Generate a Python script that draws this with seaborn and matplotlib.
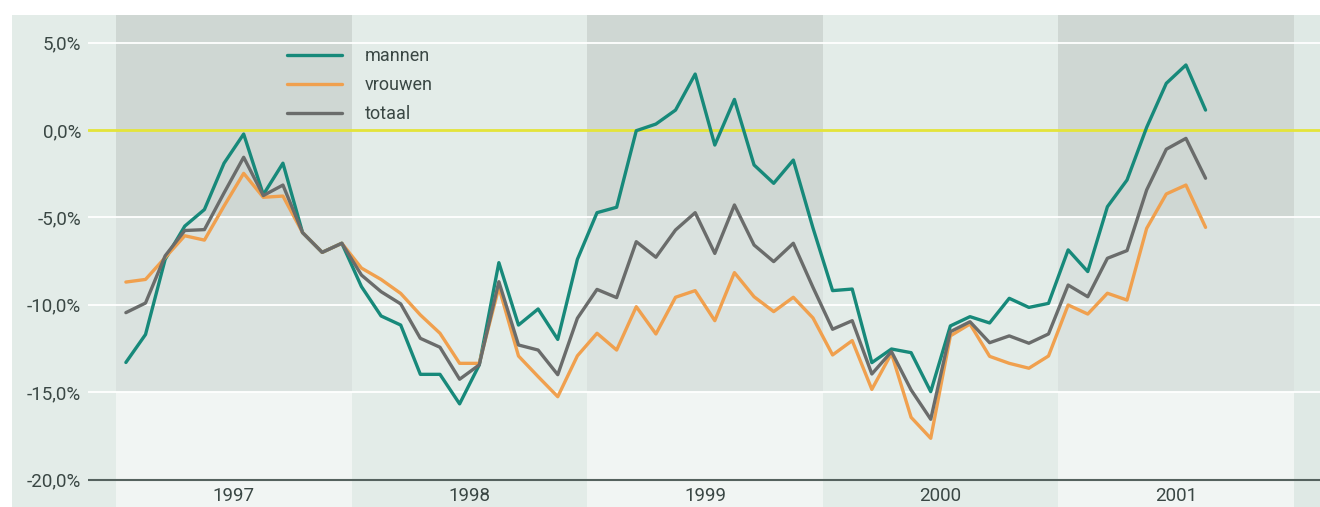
import numpy as np
import pandas as pd
import matplotlib
matplotlib.use("Agg")
import matplotlib.pyplot as plt
from matplotlib.patches import Rectangle
import seaborn as sns

# ---- data (monthly, Jan 1997 - Aug 2001), % change ----
series_names = ["mannen", "vrouwen", "totaal"]
years = ["1997", "1998", "1999", "2000", "2001"]
mannen = [-13.3, -11.7, -7.4, -5.5, -4.55, -1.9, -0.23, -3.7, -1.9, -5.87, -7.0, -6.48,
          -8.96, -10.64, -11.16, -13.98, -13.98, -15.67, -13.44, -7.59, -11.16, -10.24, -11.98, -7.4,
          -4.73, -4.42, -0.04, 0.34, 1.14, 3.2, -0.86, 1.75, -2.0, -3.05, -1.72, -5.6,
          -9.19, -9.1, -13.31, -12.53, -12.74, -14.97, -11.21, -10.68, -11.04, -9.63, -10.15, -9.92,
          -6.86, -8.1, -4.39, -2.86, 0.15, 2.67, 3.72, 1.14]
vrouwen = [-8.7, -8.55, -7.3, -6.05, -6.3, -4.35, -2.48, -3.85, -3.78, -5.87, -7.0, -6.48,
           -7.9, -8.55, -9.35, -10.58, -11.63, -13.35, -13.35, -9.0, -12.93, -14.11, -15.26, -12.92,
           -11.63, -12.59, -10.11, -11.67, -9.57, -9.19, -10.91, -8.16, -9.54, -10.39, -9.57, -10.75,
           -12.87, -12.05, -14.84, -12.78, -16.44, -17.64, -11.78, -11.1, -12.95, -13.35, -13.63, -12.93,
           -10.01, -10.53, -9.34, -9.73, -5.63, -3.66, -3.15, -5.57]
totaal = [-10.45, -9.9, -7.2, -5.75, -5.7, -3.6, -1.56, -3.75, -3.15, -5.87, -7.0, -6.48,
          -8.3, -9.25, -9.95, -11.92, -12.43, -14.26, -13.44, -8.68, -12.3, -12.59, -14.0, -10.77,
          -9.12, -9.59, -6.39, -7.28, -5.72, -4.73, -7.06, -4.29, -6.58, -7.53, -6.48, -9.0,
          -11.4, -10.91, -13.96, -12.68, -14.87, -16.55, -11.54, -10.97, -12.17, -11.78, -12.2, -11.67,
          -8.87, -9.54, -7.34, -6.9, -3.43, -1.1, -0.48, -2.76]
ytick_vals = [5, 0, -5, -10, -15, -20]
ytick_labels = ["5,0%", "0,0%", "-5,0%", "-10,0%", "-15,0%", "-20,0%"]

n = len(mannen)
month_pos = np.arange(n) + 0.5  # mid-month position, 0 = start of 1997

df = pd.DataFrame({
    "t": np.concatenate([month_pos] * 3),
    "waarde": mannen + vrouwen + totaal,
    "reeks": np.repeat(series_names, n),
})

sns.set_style("white")
plt.rcParams["font.family"] = ["Liberation Sans Narrow", "Roboto", "DejaVu Sans"]

palette = {"mannen": "#17897a", "vrouwen": "#f0a04e", "totaal": "#6a6c6b"}
mint = "#e3ece8"
shade_top = "#cfd7d3"
shade_mid = "#dae2df"
shade_low = "#f1f5f3"
text_col = "#3a4744"

fig = plt.figure(figsize=(13.2, 5.07), dpi=100, facecolor="white")
# background panel (mint), leaving a thin white margin top/left
fig.patches.append(Rectangle((12 / 1320, 0), 1, 1 - 15 / 507, transform=fig.transFigure,
                             facecolor=mint, edgecolor="none", zorder=-10))

ax = fig.add_axes([88 / 1320, 0, 1 - 88 / 1320, 1 - 15 / 507])
ax.set_facecolor("none")
ax.set_xlim(-1.43, 61.33)
ax.set_ylim(-21.57, 6.58)

# alternating year columns
for k, yr in enumerate(years):
    x0 = 12 * k
    if k % 2 == 0:
        ax.fill_between([x0, x0 + 12], -5, 6.58, color=shade_top, lw=0, zorder=0)
        ax.fill_between([x0, x0 + 12], -15, -5, color=shade_mid, lw=0, zorder=0)
        ax.fill_between([x0, x0 + 12], -21.57, -15, color=shade_low, lw=0, zorder=0)
# faint column past 2001
ax.fill_between([60, 61.4], -21.57, 6.58, color="#dfe9e5", lw=0, zorder=0)

# horizontal white grid lines
for v in [5, -5, -10, -15]:
    ax.axhline(v, color="white", lw=1.3, zorder=1)
ax.axhline(0, color="#e4e43a", lw=2.0, zorder=2)
ax.axhline(-20, color="#55625e", lw=1.5, zorder=2)

sns.lineplot(data=df, x="t", y="waarde", hue="reeks", palette=palette,
             hue_order=series_names, lw=2.4, ax=ax, zorder=5, legend=True)

for s in ax.spines.values():
    s.set_visible(False)
ax.set_yticks(ytick_vals)
ax.set_yticklabels(ytick_labels)
ax.tick_params(axis="y", length=0, pad=5, labelsize=13.5, labelcolor=text_col)
ax.set_xticks([])
ax.set_xlabel("")
ax.set_ylabel("")
for lab in ax.get_yticklabels():
    lab.set_fontstretch("condensed")

for k, yr in enumerate(years):
    ax.text(12 * k + 6, -20.95, yr, ha="center", va="center", fontsize=13.5, color=text_col)

leg = ax.legend(loc="upper left", bbox_to_anchor=(0.1615, 0.935), frameon=False,
                fontsize=13, handlelength=3.05, handletextpad=1.25, labelspacing=0.62,
                borderpad=0, borderaxespad=0)
for t in leg.get_texts():
    t.set_color(text_col)
for h in leg.get_lines():
    h.set_linewidth(2.4)

fig.savefig("out.png", dpi=100, facecolor="white")
